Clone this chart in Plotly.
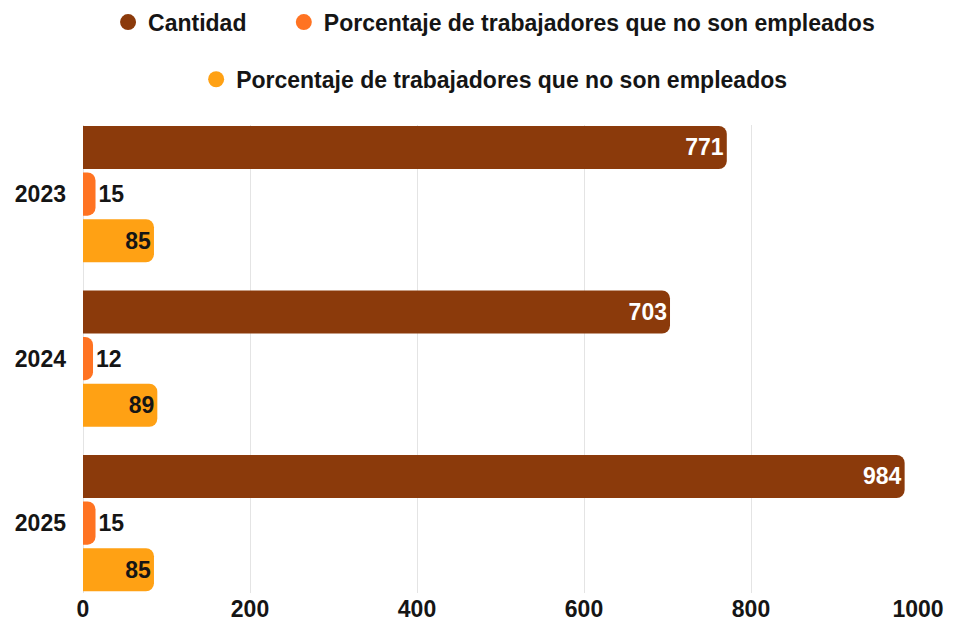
import plotly.graph_objects as go

years = ["2023", "2024", "2025"]
cantidad = [771, 703, 984]
pct_no_empleados_a = [15, 12, 15]
pct_no_empleados_b = [85, 89, 85]

series_names = [
    "Cantidad",
    "Porcentaje de trabajadores que no son empleados",
    "Porcentaje de trabajadores que no son empleados",
]
x_ticks = [0, 200, 400, 600, 800, 1000]

BROWN = "#8B3A0B"
ORANGE = "#FF7322"
AMBER = "#FFA114"
INK = "#151515"
FONT = "Liberation Sans, Arial, sans-serif"
FS = 23

fig = go.Figure()

bar_specs = [
    (cantidad, BROWN, "inside", "white"),
    (pct_no_empleados_a, ORANGE, "outside", INK),
    (pct_no_empleados_b, AMBER, "inside", INK),
]
for vals, color, pos, tcolor in bar_specs:
    fig.add_trace(go.Bar(
        x=vals, y=years, orientation="h",
        marker=dict(color=color, line=dict(width=0)),
        text=[str(v) for v in vals],
        textposition=pos,
        insidetextanchor="end",
        textangle=0,
        constraintext="none",
        textfont=dict(family=FONT, size=FS, color=tcolor, weight="bold"),
        showlegend=False,
        hoverinfo="skip",
        cliponaxis=False,
    ))

# legend entries with round markers, one legend box per entry
legend_ids = ["legend", "legend2", "legend3"]
for name, color, lid in zip(series_names, [BROWN, ORANGE, AMBER], legend_ids):
    fig.add_trace(go.Scatter(
        x=[None], y=[None], mode="markers", name=name,
        marker=dict(color=color, size=22, symbol="circle"),
        legend=lid, showlegend=True,
    ))

legend_common = dict(
    orientation="h", bgcolor="rgba(0,0,0,0)", borderwidth=0,
    font=dict(family=FONT, size=FS, color=INK, weight="bold"),
    xanchor="left", yanchor="middle", itemsizing="trace",
)

fig.update_layout(
    width=956, height=621,
    margin=dict(l=83, r=38, t=125, b=28, pad=0, autoexpand=False),
    paper_bgcolor="white", plot_bgcolor="white",
    barmode="group", bargap=0.15, bargroupgap=0.075,
    barcornerradius=8,
    font=dict(family=FONT, size=FS, color=INK),
    legend=dict(**legend_common, x=0.030, y=1.2198),
    legend2=dict(**legend_common, x=0.2405, y=1.2198),
    legend3=dict(**legend_common, x=0.1355, y=1.0977),
    xaxis=dict(
        range=[0, 1000], tickvals=x_ticks, showgrid=True, gridcolor="#e4e4e4",
        gridwidth=1, zeroline=True, zerolinecolor="#e4e4e4", zerolinewidth=1,
        showline=False, ticks="", automargin=False,
        tickfont=dict(family=FONT, size=FS, color=INK, weight="bold"),
        fixedrange=True,
    ),
    yaxis=dict(
        type="category", categoryorder="array", categoryarray=years,
        range=[2.425, -0.42], showgrid=False, zeroline=False, showline=False,
        ticks="", ticklabelstandoff=16, automargin=False,
        tickfont=dict(family=FONT, size=FS, color=INK, weight="bold"),
        fixedrange=True,
    ),
)

fig.write_html("out.html")
